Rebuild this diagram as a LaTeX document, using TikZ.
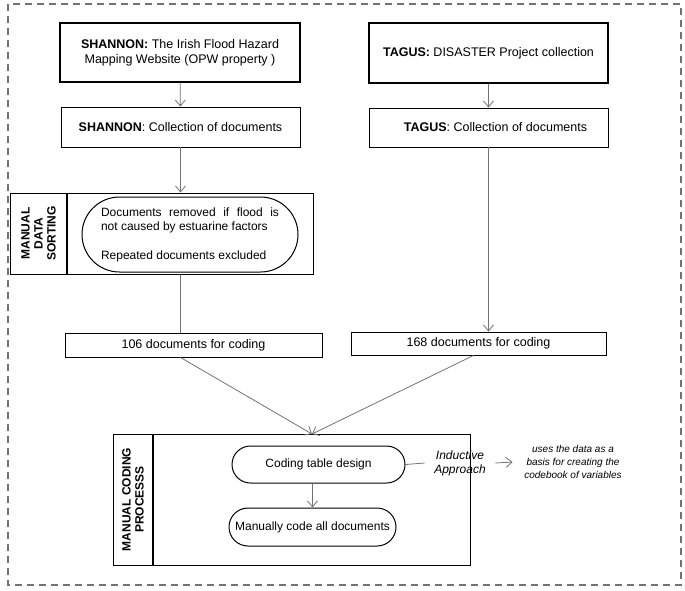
\documentclass[tikz,border=0pt]{standalone}
\usepackage{fontspec}
\setmainfont{Liberation Sans}
\usetikzlibrary{arrows.meta}
\usetikzlibrary{shapes.misc}
\tikzstyle{flow}=[x=1pt, y=-1pt, line width=0.9pt, font=\fontsize{12.5}{15}\selectfont]
\tikzstyle{src}=[draw, line width=2pt, minimum width=240pt, minimum height=59pt, align=center, inner sep=2pt]
\tikzstyle{box}=[draw, minimum width=239pt, minimum height=40pt, align=center, inner sep=2pt]
\tikzstyle{cnt}=[draw, minimum width=256pt, minimum height=24pt, inner sep=2pt]
\tikzstyle{frame}=[draw, line width=1pt]
\tikzstyle{strip}=[rotate=90, align=center, inner sep=1pt, font=\fontsize{12}{13}\selectfont\bfseries]
\tikzstyle{divider}=[line width=2pt]
\tikzstyle{pill}=[draw, rounded rectangle, line width=1pt, align=center, inner sep=2pt]
\tikzstyle{edge}=[line width=0.8pt, draw=black!55, -{Straight Barb[length=6pt, width=10pt]}]
\tikzstyle{plain}=[line width=0.8pt, draw=black!55]
\tikzstyle{note}=[align=center, font=\fontsize{12}{14}\selectfont\itshape]

\begin{document}
\begin{tikzpicture}[flow]
	\useasboundingbox (0,0) rectangle (685,590);
	\draw[black!55, line width=1.5pt, dash pattern=on 7pt off 5pt] (8,4) rectangle (681,585);
	%% Shannon
	\draw (180,52.5) node[src] (sh1) {\textbf{SHANNON:} The Irish Flood Hazard\\Mapping Website (OPW property )};
	\draw (180.5,127) node[box] (sh2) {\textbf{SHANNON}: Collection of documents};
	%% Tagus
	\draw (488.5,53) node[src, minimum width=239pt, minimum height=60pt] (tg1) {\textbf{TAGUS:} DISASTER Project collection};
	\draw (488.5,127.5) node[box, minimum height=39pt] (tg2) {\hspace{14pt}\textbf{TAGUS}: Collection of documents};
	%%%%%%
	\draw (161.5,233.5) node[frame, minimum width=303pt, minimum height=81pt] (sort) {};
	\draw (38.5,233.5) node[strip] (sortLbl) {MANUAL\\DATA\\SORTING};
	\draw[divider] (67,193) -- (67,274);
	\draw (190,234.5) node[pill, minimum width=220pt, minimum height=75pt, font=\fontsize{12}{14}\selectfont] (rm) {\parbox{178pt}{\setlength{\parfillskip}{0pt plus 1fil}Documents removed if flood is\linebreak not caused by estuarine factors\\[15pt]Repeated documents excluded}};
	%%
	\draw (193.5,345) node[cnt, minimum width=257pt] (n106) {106 documents for coding};
	\draw (478.5,343.5) node[cnt, minimum width=255pt, minimum height=23pt] (n168) {168 documents for coding};
	%%%%%%
	\draw (291.5,499.5) node[frame, minimum width=357pt, minimum height=131pt] (code) {};
	\draw (133,499.5) node[strip] (codeLbl) {MANUAL CODING\\PROCESSS};
	\draw[divider] (153,434) -- (153,565);
	\draw (318.5,464.5) node[pill, minimum width=177pt, minimum height=37pt, font=\fontsize{12}{14}\selectfont] (ct) {Coding table design};
	\draw (312.5,527) node[pill, minimum width=171pt, minimum height=38pt, font=\fontsize{12}{14}\selectfont] (mc) {Manually code all documents};
	\draw (460,463) node[note] (ind) {Inductive\\Approach};
	\draw (573,462) node[note, font=\fontsize{10}{13}\selectfont\itshape] (uses) {uses the data as a\\basis for creating the\\codebook of variables};
	\coordinate (join) at (312,434);
	%%
	\draw[edge] (sh1) -- (sh2);
	\draw[edge] (tg1) -- (tg2);
	\draw[edge] (sh2.south) -- (sh2.south |- sort.north);
	\draw[plain] (sh2.south |- sort.south) -- (sh2.south |- n106.north);
	\draw[edge] (tg2.south) -- (tg2.south |- n168.north);
	\draw[edge] ([xshift=-13pt]n106.south) -- (join);
	\draw[edge] ([xshift=-5pt]n168.south) -- (join);
	\draw[edge] (mc.north |- ct.south) -- (mc.north);
	\draw[plain] (ct.east) -- ([xshift=-6pt]ind.west);
	\draw[edge] ([xshift=6pt]ind.east) -- ([xshift=-8pt]uses.west);
\end{tikzpicture}
\end{document}
